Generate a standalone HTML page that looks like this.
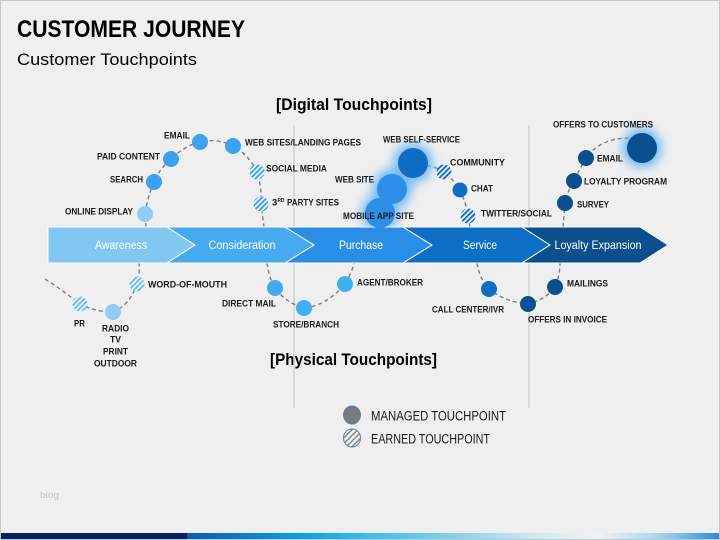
<!DOCTYPE html>
<html><head><meta charset="utf-8"><style>
html,body{margin:0;padding:0;background:#efefef;}
svg{display:block;}
text{font-family:"Liberation Sans",sans-serif;}
.l{font-weight:bold;font-size:9.5px;fill:#1a1a1a;}
</style></head><body>
<svg width="720" height="540" viewBox="0 0 720 540" xmlns="http://www.w3.org/2000/svg">
<defs>
<pattern id="hL" patternUnits="userSpaceOnUse" width="3.6" height="3.6" patternTransform="rotate(45)"><rect width="3.6" height="3.6" fill="#f4f8fc"/><rect width="1.9" height="3.6" fill="#6dbaf2"/></pattern>
<pattern id="hM" patternUnits="userSpaceOnUse" width="3.6" height="3.6" patternTransform="rotate(45)"><rect width="3.6" height="3.6" fill="#f4f8fc"/><rect width="1.9" height="3.6" fill="#3aa2ee"/></pattern>
<pattern id="hD" patternUnits="userSpaceOnUse" width="3.6" height="3.6" patternTransform="rotate(45)"><rect width="3.6" height="3.6" fill="#f4f8fc"/><rect width="1.9" height="3.6" fill="#0f6dc3"/></pattern>
<pattern id="hG" patternUnits="userSpaceOnUse" width="4" height="4" patternTransform="rotate(45)"><rect width="4" height="4" fill="#f6f6f6"/><rect width="1.6" height="4" fill="#8a8a8a"/></pattern>
<filter id="blur" x="-1" y="-1" width="3" height="3"><feGaussianBlur stdDeviation="5"/></filter>
<linearGradient id="bar" x1="187" y1="0" x2="720" y2="0" gradientUnits="userSpaceOnUse">
<stop offset="0" stop-color="#0a5cae"/>
<stop offset="0.21" stop-color="#0aa0e0"/>
<stop offset="0.34" stop-color="#3cbcf0"/>
<stop offset="0.51" stop-color="#8ad2ef"/>
<stop offset="0.66" stop-color="#cfe9f4"/>
<stop offset="0.77" stop-color="#eef4f6"/>
<stop offset="0.89" stop-color="#a0d6f0"/>
<stop offset="1" stop-color="#2a8ad8"/>
</linearGradient>
</defs>

<rect x="0.5" y="0.5" width="719" height="539" fill="#efefef" stroke="#c6c6c6"/>

<!-- titles -->
<text x="17" y="37" font-size="24" font-weight="bold" fill="#000" textLength="228" lengthAdjust="spacingAndGlyphs">CUSTOMER JOURNEY</text>
<text x="17" y="65" font-size="17" fill="#000" textLength="180" lengthAdjust="spacingAndGlyphs">Customer Touchpoints</text>
<text x="276" y="110" font-size="16.5" font-weight="bold" fill="#000" textLength="156" lengthAdjust="spacingAndGlyphs">[Digital Touchpoints]</text>
<text x="270" y="365" font-size="16.5" font-weight="bold" fill="#000" textLength="167" lengthAdjust="spacingAndGlyphs">[Physical Touchpoints]</text>

<!-- vertical separators -->
<line x1="294" y1="125" x2="294" y2="408" stroke="#d2d2d2" stroke-width="1.5"/>
<line x1="529" y1="125" x2="529" y2="408" stroke="#d2d2d2" stroke-width="1.5"/>

<!-- dashed paths -->
<g fill="none" stroke="#7f7f7f" stroke-width="1.4" stroke-dasharray="4 3">
<path d="M146,227 L145,214 Q148,195 154,182 Q160,168 171,159 Q184,146 200,142 Q217,138 233,146 Q250,156 257,172 Q262,188 261,204 L264,227"/>
<path d="M413,163 Q436,166 444,172 Q454,180 460,190 Q466,203 468,216 L470,227"/>
<path d="M563,227 L565,203 Q568,190 574,181 Q580,168 586,158 Q600,138 630,138 L642,140"/>
<path d="M45,279 Q65,292 80,304 Q95,312 113,312 Q130,305 137,284 Q140,272 139,263"/>
<path d="M267,263 Q269,278 275,288 Q286,303 304,308 Q326,306 345,284 Q352,272 354,263"/>
<path d="M477,263 Q480,280 489,289 Q505,302 528,304 Q545,300 555,287 Q560,275 560,263"/>
</g>

<!-- glows -->
<g filter="url(#blur)" fill="#5eb2f6" opacity="0.85">
<circle cx="413" cy="163" r="20"/>
<circle cx="392" cy="189" r="20"/>
<circle cx="380" cy="213" r="19"/>
<circle cx="642" cy="148" r="20"/>
</g>

<!-- chevrons -->
<g stroke="#ffffff" stroke-width="1">
<polygon points="48,227 167,227 195,245 167,263 48,263" fill="#82c6f2"/>
<polygon points="167,227 285,227 314,245 285,263 167,263 195,245" fill="#45aaee"/>
<polygon points="285,227 403,227 432,245 403,263 285,263 314,245" fill="#2b8ee6"/>
<polygon points="403,227 522,227 550,245 522,263 403,263 432,245" fill="#0f6fc6"/>
<polygon points="522,227 640,227 668,245 640,263 522,263 550,245" fill="#0b4f8e"/>
</g>
<g font-size="11.5" fill="#ffffff" text-anchor="middle">
<text x="121" y="249" textLength="52" lengthAdjust="spacingAndGlyphs">Awareness</text>
<text x="242" y="249" textLength="67" lengthAdjust="spacingAndGlyphs">Consideration</text>
<text x="361" y="249" textLength="44" lengthAdjust="spacingAndGlyphs">Purchase</text>
<text x="480" y="249" textLength="34" lengthAdjust="spacingAndGlyphs">Service</text>
<text x="598" y="249" textLength="87" lengthAdjust="spacingAndGlyphs">Loyalty Expansion</text>
</g>

<!-- digital nodes -->
<circle cx="145" cy="214" r="8" fill="#8fcdf4"/>
<circle cx="154" cy="182" r="8" fill="#3aa2ee"/>
<circle cx="171" cy="159" r="8" fill="#3aa2ee"/>
<circle cx="200" cy="142" r="8" fill="#3aa2ee"/>
<circle cx="233" cy="146" r="8" fill="#3aa2ee"/>
<circle cx="257" cy="172" r="7.5" fill="url(#hM)"/>
<circle cx="261" cy="204" r="7.5" fill="url(#hM)"/>

<circle cx="380" cy="213" r="15" fill="#2d8fe8"/>
<circle cx="392" cy="189" r="15" fill="#2d8fe8"/>
<circle cx="413" cy="163" r="15" fill="#0f6dc3"/>
<circle cx="444" cy="172" r="7.5" fill="url(#hD)"/>
<circle cx="460" cy="190" r="7.5" fill="#0f6dc3"/>
<circle cx="468" cy="216" r="7.5" fill="url(#hD)"/>

<circle cx="642" cy="148" r="15" fill="#0b4f8e"/>
<circle cx="586" cy="158" r="8" fill="#0b4f8e"/>
<circle cx="574" cy="181" r="8" fill="#0b4f8e"/>
<circle cx="565" cy="203" r="8" fill="#0b4f8e"/>

<!-- physical nodes -->
<circle cx="80" cy="304" r="7.5" fill="url(#hL)"/>
<circle cx="113" cy="312" r="8" fill="#8fcdf4"/>
<circle cx="137" cy="284" r="7.5" fill="url(#hL)"/>
<circle cx="275" cy="288" r="8" fill="#44aaee"/>
<circle cx="304" cy="308" r="8" fill="#3cb2f0"/>
<circle cx="345" cy="284" r="8" fill="#3cb2f0"/>
<circle cx="489" cy="289" r="8" fill="#0f6dc3"/>
<circle cx="528" cy="304" r="8" fill="#0b4f8e"/>
<circle cx="555" cy="287" r="8" fill="#0b4f8e"/>

<!-- labels -->
<g class="l">
<text x="190" y="138.5" text-anchor="end" textLength="26" lengthAdjust="spacingAndGlyphs">EMAIL</text>
<text x="160" y="159.5" text-anchor="end" textLength="63" lengthAdjust="spacingAndGlyphs">PAID CONTENT</text>
<text x="143" y="182.5" text-anchor="end" textLength="33" lengthAdjust="spacingAndGlyphs">SEARCH</text>
<text x="133" y="214.5" text-anchor="end" textLength="68" lengthAdjust="spacingAndGlyphs">ONLINE DISPLAY</text>
<text x="245" y="145.5" textLength="116" lengthAdjust="spacingAndGlyphs">WEB SITES/LANDING PAGES</text>
<text x="266" y="171.5" textLength="61" lengthAdjust="spacingAndGlyphs">SOCIAL MEDIA</text>
<text x="272" y="205.5">3</text>
<text x="277.5" y="202" font-size="5.5" textLength="7" lengthAdjust="spacingAndGlyphs">RD</text>
<text x="287" y="205.5" textLength="52" lengthAdjust="spacingAndGlyphs">PARTY SITES</text>
<text x="383" y="142.5" textLength="77" lengthAdjust="spacingAndGlyphs">WEB SELF-SERVICE</text>
<text x="335" y="182.5" textLength="39" lengthAdjust="spacingAndGlyphs">WEB SITE</text>
<text x="343" y="219" textLength="71" lengthAdjust="spacingAndGlyphs">MOBILE APP SITE</text>
<text x="450" y="165.5" textLength="55" lengthAdjust="spacingAndGlyphs">COMMUNITY</text>
<text x="471" y="191.5" textLength="22" lengthAdjust="spacingAndGlyphs">CHAT</text>
<text x="481" y="216.5" textLength="71" lengthAdjust="spacingAndGlyphs">TWITTER/SOCIAL</text>
<text x="553" y="127.5" textLength="100" lengthAdjust="spacingAndGlyphs">OFFERS TO CUSTOMERS</text>
<text x="597" y="161.5" textLength="26" lengthAdjust="spacingAndGlyphs">EMAIL</text>
<text x="584" y="184.5" textLength="83" lengthAdjust="spacingAndGlyphs">LOYALTY PROGRAM</text>
<text x="577" y="207.5" textLength="32" lengthAdjust="spacingAndGlyphs">SURVEY</text>

<text x="74" y="326.5" textLength="11" lengthAdjust="spacingAndGlyphs">PR</text>
<text x="115.5" y="331.5" text-anchor="middle" textLength="27" lengthAdjust="spacingAndGlyphs">RADIO</text>
<text x="115.5" y="342.5" text-anchor="middle" textLength="11" lengthAdjust="spacingAndGlyphs">TV</text>
<text x="115.5" y="354.5" text-anchor="middle" textLength="25" lengthAdjust="spacingAndGlyphs">PRINT</text>
<text x="115.5" y="366.5" text-anchor="middle" textLength="43" lengthAdjust="spacingAndGlyphs">OUTDOOR</text>
<text x="148" y="287.5" textLength="79" lengthAdjust="spacingAndGlyphs">WORD-OF-MOUTH</text>
<text x="222" y="306.5" textLength="54" lengthAdjust="spacingAndGlyphs">DIRECT MAIL</text>
<text x="273" y="327.5" textLength="66" lengthAdjust="spacingAndGlyphs">STORE/BRANCH</text>
<text x="357" y="285.5" textLength="66" lengthAdjust="spacingAndGlyphs">AGENT/BROKER</text>
<text x="432" y="312.5" textLength="72" lengthAdjust="spacingAndGlyphs">CALL CENTER/IVR</text>
<text x="528" y="322.5" textLength="79" lengthAdjust="spacingAndGlyphs">OFFERS IN INVOICE</text>
<text x="567" y="286.5" textLength="41" lengthAdjust="spacingAndGlyphs">MAILINGS</text>
</g>

<!-- legend -->
<ellipse cx="352" cy="415" rx="8.5" ry="9" fill="#7b7b7b" stroke="#5582b0" stroke-width="1"/>
<text x="371" y="420.5" font-size="13.5" fill="#1a1a1a" textLength="135" lengthAdjust="spacingAndGlyphs">MANAGED TOUCHPOINT</text>
<ellipse cx="352" cy="438" rx="8.5" ry="9" fill="url(#hG)" stroke="#5582b0" stroke-width="1"/>
<text x="371" y="443.5" font-size="13.5" fill="#1a1a1a" textLength="119" lengthAdjust="spacingAndGlyphs">EARNED TOUCHPOINT</text>

<!-- watermark -->
<text x="40" y="498" font-size="9" fill="#c4c4c4" textLength="19" lengthAdjust="spacingAndGlyphs">blog</text>

<!-- bottom bar -->
<rect x="1" y="533" width="186" height="6" fill="#07205e"/>
<rect x="187" y="533" width="532" height="6" fill="url(#bar)"/>
</svg>
</body></html>
